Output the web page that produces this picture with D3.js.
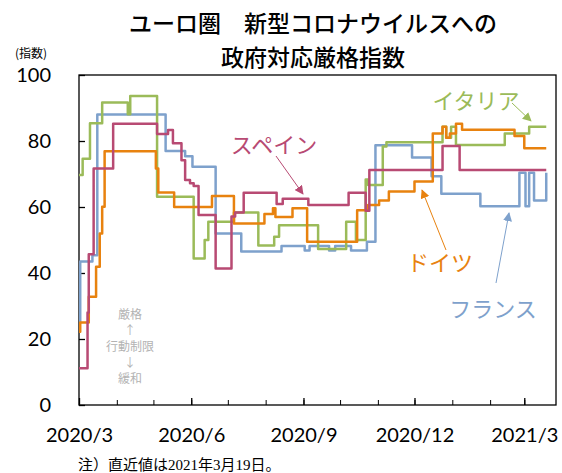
<!DOCTYPE html>
<html>
<head>
<meta charset="utf-8">
<script src="https://cdn.jsdelivr.net/npm/d3@7"></script>
<style>
  body { margin: 0; background: #fff; }
  svg { display: block; }
  .jp { font-family: "Noto Sans CJK JP", sans-serif; }
</style>
</head>
<body>
<svg id="chart" width="562" height="473"></svg>
<script>
// values (change points, each value holds until the next date)
var italyDates = ["2020-03-01","2020-03-04","2020-03-10","2020-03-20","2020-04-10","2020-04-12","2020-05-04","2020-06-03","2020-06-12","2020-06-15","2020-07-06","2020-07-26","2020-08-08","2020-08-12","2020-09-13","2020-10-06","2020-10-14","2020-10-22","2020-10-24","2020-11-05","2020-11-08","2020-12-24","2020-12-27","2020-12-31","2021-01-04","2021-02-13","2021-03-05","2021-03-19"];
var italyValues = [69.7,74.6,85.4,91.7,88.1,93.6,63.1,44.4,50,55.5,58.3,48.3,51,54.5,47.3,55.5,50,68.3,66.7,78.3,79.6,84.3,81,84.3,78.8,82.3,84.3,84.3];

var spainDates = ["2020-03-01","2020-03-08","2020-03-09","2020-03-13","2020-03-29","2020-05-04","2020-05-13","2020-05-17","2020-05-24","2020-05-27","2020-05-31","2020-06-03","2020-06-07","2020-06-21","2020-07-04","2020-07-07","2020-07-14","2020-08-10","2020-08-15","2020-09-05","2020-10-08","2020-10-22","2020-10-25","2020-12-24","2021-01-07","2021-03-19"];
var spainValues = [11.1,28,45.7,71.7,85.2,82.1,83.3,79.3,74.2,68.2,67.2,66.4,57.6,41.4,57.1,58.3,64.3,60.9,62.5,60.6,64.3,58.9,71.2,78.5,71.2,71.2];

var germanyDates = ["2020-03-01","2020-03-02","2020-03-09","2020-03-15","2020-03-18","2020-03-20","2020-03-22","2020-05-03","2020-05-05","2020-05-18","2020-06-18","2020-07-06","2020-07-31","2020-08-07","2020-08-09","2020-08-23","2020-09-04","2020-10-15","2020-10-24","2020-11-02","2020-11-10","2020-12-01","2020-12-16","2020-12-24","2020-12-27","2020-12-30","2021-01-04","2021-01-09","2021-02-21","2021-03-01","2021-03-19"];
var germanyValues = [22.2,25,32.8,41.9,52,60.1,76.9,71.7,64.4,60,63.3,55,57.9,59.6,57,59.6,49.5,59,60.6,62,64.7,67.7,82.3,84.3,81,82.3,85.2,83.4,81.5,77.8,77.8];

var franceDates = ["2020-03-01","2020-03-02","2020-03-12","2020-03-16","2020-05-11","2020-05-27","2020-06-02","2020-06-21","2020-07-12","2020-08-14","2020-09-02","2020-09-06","2020-09-22","2020-09-27","2020-10-10","2020-10-23","2020-10-30","2020-11-29","2020-12-15","2020-12-23","2021-01-24","2021-02-25","2021-03-02","2021-03-05","2021-03-09","2021-03-19"];
var franceValues = [25,43.5,45.4,88,77,75.4,72.2,52,46.5,48.2,46.8,48.2,46.8,48.2,46.8,49.5,78.7,75,69.3,64,60.2,70.4,60.2,70.4,62,70.4];

var yTicks = [0,20,40,60,80,100];
var xLabelDates = ["2020-03-01","2020-06-01","2020-09-01","2020-12-01","2021-03-01"];

var parse = d3.timeParse("%Y-%m-%d");
function rows(dates, values){
  return dates.map(function(d, i){ return {date: parse(d), value: values[i]}; });
}

var series = [
  {name: "フランス", color: "#7ea1cc", data: rows(franceDates, franceValues)},
  {name: "イタリア", color: "#9bbb59", data: rows(italyDates, italyValues)},
  {name: "ドイツ", color: "#e8820f", data: rows(germanyDates, germanyValues)},
  {name: "スペイン", color: "#b84a73", data: rows(spainDates, spainValues)}
];

var svg = d3.select("#chart");
var margin = {top: 75, left: 79, right: 6, bottom: 68};
var w = 562 - margin.left - margin.right;
var h = 473 - margin.top - margin.bottom;

var xScale = d3.scaleTime().domain([parse("2020-03-01"), parse("2021-03-27")]).range([0, w]);
var yScale = d3.scaleLinear().domain([0, 100]).range([h, 0]);

// title
var title = svg.append("text").attr("class", "jp").attr("text-anchor", "middle")
  .attr("font-size", 23).attr("font-weight", 500).attr("fill", "#000");
title.append("tspan").attr("x", 313).attr("y", 32).text("ユーロ圏\u3000新型コロナウイルスへの");
title.append("tspan").attr("x", 313).attr("y", 66).text("政府対応厳格指数");

svg.append("text").attr("class", "jp").attr("x", 31).attr("y", 58)
  .attr("text-anchor", "middle").attr("font-size", 12).text("(指数)");

var g = svg.append("g").attr("transform", "translate(" + margin.left + "," + margin.top + ")");

// minor month ticks
g.append("g").attr("transform", "translate(0," + h + ")")
  .call(d3.axisBottom(xScale).ticks(d3.timeMonth.every(1)).tickSize(-5).tickFormat(""))
  .call(function(a){ a.select(".domain").remove(); a.selectAll("line").attr("stroke", "#000").attr("stroke-width", 1); });

// labelled quarter ticks
g.append("g").attr("transform", "translate(0," + h + ")")
  .call(d3.axisBottom(xScale).tickValues(xLabelDates.map(parse)).tickSize(-7).tickPadding(23)
    .tickFormat(d3.timeFormat("%Y/%-m")))
  .call(function(a){
    a.select(".domain").remove();
    a.selectAll("line").attr("stroke", "#000").attr("stroke-width", 1.3);
    a.selectAll("text").attr("font-family", "Lato, sans-serif").attr("font-size", 20).attr("fill", "#000");
  });

g.append("g")
  .call(d3.axisLeft(yScale).tickValues(yTicks).tickSize(-6).tickPadding(28))
  .call(function(a){
    a.select(".domain").remove();
    a.selectAll("line").attr("stroke", "#000").attr("stroke-width", 1.3);
    a.selectAll("text").attr("font-family", "Lato, sans-serif").attr("font-size", 20).attr("fill", "#000");
  });

g.append("rect").attr("width", w).attr("height", h)
  .attr("fill", "none").attr("stroke", "#000").attr("stroke-width", 1.3);

var line = d3.line()
  .x(function(d){ return xScale(d.date); })
  .y(function(d){ return yScale(d.value); })
  .curve(d3.curveStepAfter);

g.selectAll(".series").data(series).enter().append("path")
  .attr("class", "series")
  .attr("d", function(d){ return line(d.data); })
  .attr("fill", "none")
  .attr("stroke", function(d){ return d.color; })
  .attr("stroke-width", 2.5)
  .attr("stroke-linejoin", "round");

// gray note
var note = ["厳格", "↑", "行動制限", "↓", "緩和"];
g.append("g").selectAll("text").data(note).enter().append("text")
  .attr("class", "jp").attr("text-anchor", "middle")
  .attr("x", 51).attr("y", function(d, i){ return 244 + i * 16; })
  .attr("font-size", 12).attr("fill", "#b3b3b3").text(function(d){ return d; });

// labels with arrows
var defs = svg.append("defs");
series.forEach(function(s, i){
  defs.append("marker").attr("id", "arr" + i).attr("viewBox", "0 0 10 10")
    .attr("refX", 9).attr("refY", 5).attr("markerWidth", 9).attr("markerHeight", 9)
    .attr("markerUnits", "userSpaceOnUse").attr("orient", "auto")
    .append("path").attr("d", "M0,0L10,5L0,10z").attr("fill", s.color);
});

var notes = [
  {s: 1, tx: 476, ty: 109, x1: 512, y1: 103, x2: 531, y2: 121},
  {s: 3, tx: 274, ty: 153, x1: 276, y1: 156, x2: 303, y2: 194},
  {s: 2, tx: 440, ty: 271, x1: 446, y1: 250, x2: 422, y2: 190},
  {s: 0, tx: 493, ty: 317, x1: 496, y1: 283, x2: 509, y2: 213}
];
notes.forEach(function(n){
  var s = series[n.s];
  svg.append("text").attr("class", "jp").attr("x", n.tx).attr("y", n.ty)
    .attr("text-anchor", "middle").attr("font-size", 22).attr("fill", s.color).text(s.name);
  svg.append("line").attr("x1", n.x1).attr("y1", n.y1).attr("x2", n.x2).attr("y2", n.y2)
    .attr("stroke", s.color).attr("stroke-width", 1)
    .attr("marker-end", "url(#arr" + n.s + ")");
});

svg.append("text").attr("x", 78).attr("y", 470).attr("font-size", 15)
  .attr("font-family", "'Liberation Serif', 'Noto Sans CJK JP', serif")
  .text("注）直近値は2021年3月19日。");
</script>
</body>
</html>
